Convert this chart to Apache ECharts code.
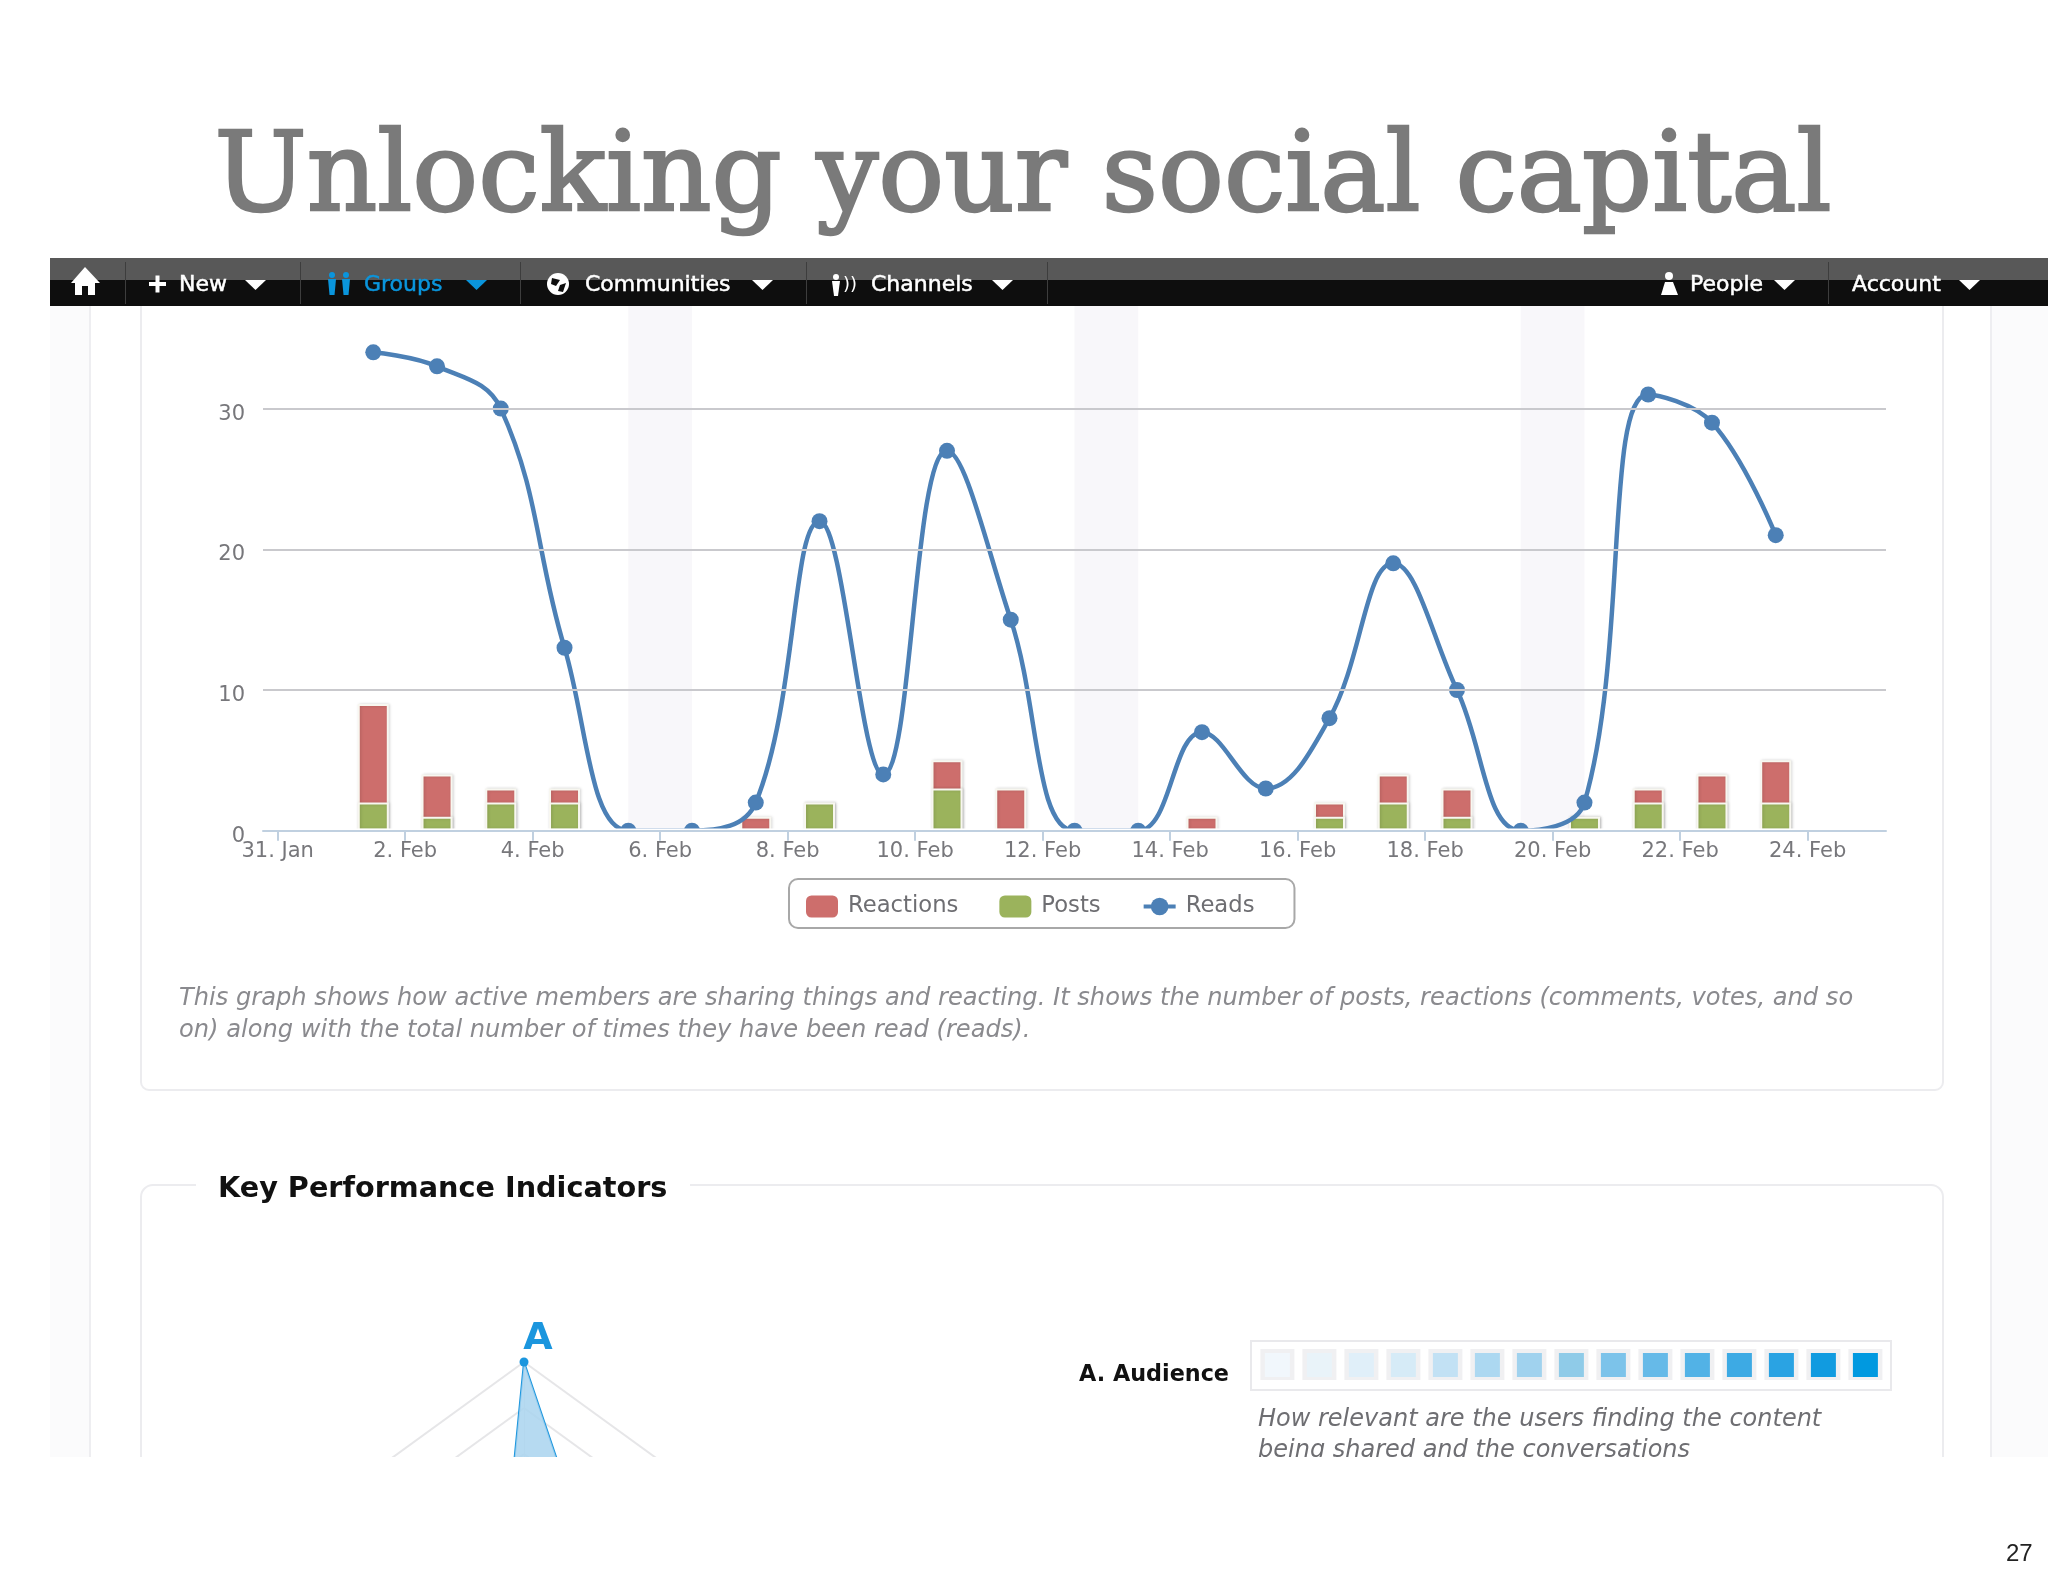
<!DOCTYPE html>
<html>
<head>
<meta charset="utf-8">
<title>Unlocking your social capital</title>
<style>
  html, body { margin: 0; padding: 0; background: #fff; }
  #main { width: 2048px; height: 1576px; }
</style>
<script src="https://cdn.jsdelivr.net/npm/echarts@6/dist/echarts.min.js"></script>
</head>
<body>
<div id="main"></div>
<script>
// x values are days counted from 31. Jan, points sit at midday
var days = [1.5, 2.5, 3.5, 4.5, 5.5, 6.5, 7.5, 8.5, 9.5, 10.5, 11.5, 12.5, 13.5, 14.5, 15.5, 16.5, 17.5, 18.5, 19.5, 20.5, 21.5, 22.5, 23.5];
var reactions = [7, 3, 1, 1, 0, 0, 1, 0, 0, 2, 3, 0, 0, 1, 0, 1, 2, 2, 0, 0, 1, 2, 3];
var posts = [2, 1, 2, 2, 0, 0, 0, 2, 0, 3, 0, 0, 0, 0, 0, 1, 2, 1, 0, 1, 2, 2, 2];
var reads = [34, 33, 30, 13, 0, 0, 2, 22, 4, 27, 15, 0, 0, 7, 3, 8, 19, 10, 0, 2, 31, 29, 21];

var tickDays = [0, 2, 4, 6, 8, 10, 12, 14, 16, 18, 20, 22, 24];
var tickLabels = ['31. Jan', '2. Feb', '4. Feb', '6. Feb', '8. Feb', '10. Feb', '12. Feb', '14. Feb', '16. Feb', '18. Feb', '20. Feb', '22. Feb', '24. Feb'];
var yTicks = [0, 10, 20, 30];
var weekends = [[5.5, 6.5], [12.5, 13.5], [19.5, 20.5]];

var radarNames = ['A', 'B', 'C', 'D', 'E'];
var radarValues = [100, 10, 30, 30, 32];
var audienceShades = ['#f1f7fc', '#e9f3f9', '#e0eff9', '#d6ebf7', '#c2e1f4', '#acd8f1', '#a0d2ee', '#8fcbe8', '#7cc3ea', '#66bae8', '#52b2e6', '#3daae4', '#2aa3e3', '#119be0', '#0099e0'];

var navItems = [
    { text: 'New', x: 179, color: '#fff', caret: 245 },
    { text: 'Groups', x: 364, color: '#0a95dc', caret: 466 },
    { text: 'Communities', x: 585, color: '#fff', caret: 752 },
    { text: 'Channels', x: 871, color: '#fff', caret: 992 },
    { text: 'People', x: 1690, color: '#fff', caret: 1774 },
    { text: 'Account', x: 1852, color: '#fff', caret: 1959 }
];
var navSeparators = [125, 300, 520, 806, 1047, 1828];

function pairs(values) {
    return values.map(function (v, i) { return [days[i], v]; });
}
// value x axis does not stack, so the red bar runs to the total and green sits over it.
// empty pieces would still paint their border
function barPairs(values) {
    return values.map(function (v, i) { return [days[i], v || null]; });
}
var totals = reactions.map(function (v, i) { return v + posts[i]; });

function label(x, y, str, font, color, extra, z) {
    var style = { x: x, y: y, text: str, font: font, fill: color, textVerticalAlign: 'middle' };
    for (var k in extra) style[k] = extra[k];
    return { type: 'text', z: z || 30, style: style };
}
function box(x, y, w, h, fill, z, r) {
    return { type: 'rect', z: z, shape: { x: x, y: y, width: w, height: h, r: r || 0 }, style: { fill: fill } };
}
function frame(x, y, w, h, stroke, z, r) {
    return { type: 'rect', z: z, shape: { x: x, y: y, width: w, height: h, r: r || 0 }, style: { fill: 'none', stroke: stroke, lineWidth: 2 } };
}
function poly(points, fill, z) {
    return { type: 'polygon', z: z, shape: { points: points }, style: { fill: fill } };
}
function dot(cx, cy, r, fill, z) {
    return { type: 'circle', z: z, shape: { cx: cx, cy: cy, r: r }, style: { fill: fill } };
}

var sans = '"DejaVu Sans", sans-serif';
var chrome = [];

// page tint and panel outlines
chrome.push(box(50, 306, 39, 1151, '#fbfbfc', 0));
chrome.push(box(1991, 306, 57, 1151, '#fbfbfc', 0));
chrome.push(box(89, 306, 2, 1151, '#eeeef1', 0));
chrome.push(box(1990, 306, 2, 1151, '#eeeef1', 0));
chrome.push(frame(141, 290, 1802, 800, '#ececef', 0, 8));
chrome.push(frame(141, 1185, 1802, 340, '#ececef', 0, 12));
chrome.push(box(196, 1170, 494, 30, '#fff', 1));

// nav bar
chrome.push(box(50, 258, 1998, 22, '#585858', 40));
chrome.push(box(50, 280, 1998, 26, '#0e0e0e', 40));
navSeparators.forEach(function (x) { chrome.push(box(x, 262, 1, 42, '#3d3d3d', 41)); });
navItems.forEach(function (item) {
    chrome.push(label(item.x, 285, item.text, '22px ' + sans, item.color, { stroke: item.color, lineWidth: 0.5 }, 42));
    chrome.push(poly([[item.caret, 280], [item.caret + 21, 280], [item.caret + 10.5, 290]], item.color, 42));
});
// house
chrome.push(poly([[85, 267], [100, 283], [95, 283], [95, 295], [88, 295], [88, 286], [82, 286], [82, 295], [75, 295], [75, 283], [71, 283]], '#fff', 42));
// plus next to New
chrome.push(box(149, 282, 17, 4, '#fff', 42));
chrome.push(box(155.5, 275.5, 4, 17, '#fff', 42));
// groups figures
[332, 346].forEach(function (x) {
    chrome.push(dot(x, 275, 3, '#0a95dc', 42));
    chrome.push(poly([[x - 4, 279], [x + 4, 279], [x + 2.5, 295], [x - 2.5, 295]], '#0a95dc', 42));
});
// globe
chrome.push(dot(558, 284, 11, '#fff', 42));
chrome.push(poly([[552, 278], [560, 280], [556, 286], [551, 284]], '#0e0e0e', 43));
chrome.push(poly([[560, 285], [566, 283], [563, 292], [558, 291]], '#0e0e0e', 43));
// channels figure and signal
chrome.push(dot(836, 277, 3, '#fff', 42));
chrome.push(poly([[832, 281], [840, 281], [838, 296], [834, 296]], '#fff', 42));
chrome.push(label(843, 285, '))', '18px ' + sans, '#fff', {}, 42));
// people figure
chrome.push(dot(1669, 276, 4, '#fff', 42));
chrome.push(poly([[1665, 282], [1673, 282], [1678, 295], [1661, 295]], '#fff', 42));

// title and page number
chrome.push(label(1023, 182, 'Unlocking your social capital', '109.5px "DejaVu Serif", serif', '#7a7a7a', { textAlign: 'center', stroke: '#7a7a7a', lineWidth: 2.5 }));
chrome.push(label(2006, 1554, '27', '24px "Liberation Sans", sans-serif', '#222', {}, 36));

// caption under the chart
chrome.push(label(179, 998.5, 'This graph shows how active members are sharing things and reacting. It shows the number of posts, reactions (comments, votes, and so', 'italic 24.15px ' + sans, '#8a8a8e', {}));
chrome.push(label(179, 1030.5, 'on) along with the total number of times they have been read (reads).', 'italic 24.15px ' + sans, '#8a8a8e', {}));

// KPI section
chrome.push(label(218, 1189.5, 'Key Performance Indicators', 'bold 28.7px ' + sans, '#111', {}));
chrome.push(label(538, 1339, 'A', 'bold 38px ' + sans, '#1b96de', { textAlign: 'center' }));
chrome.push(label(1079, 1375, 'A. Audience', 'bold 22.3px ' + sans, '#111', {}));
chrome.push(frame(1251, 1341, 640, 49, '#e9e9ec', 3));
audienceShades.forEach(function (c, i) {
    var x = 1277.4 + i * 42;
    chrome.push(box(x - 17, 1349, 34, 31, '#f0f0f2', 3));
    chrome.push(box(x - 12.5, 1353, 25, 24, c, 4));
});
chrome.push(label(1258, 1420, 'How relevant are the users finding the content', 'italic 24px ' + sans, '#6e6e72', {}));
chrome.push(label(1258, 1451, 'being shared and the conversations', 'italic 24px ' + sans, '#6e6e72', {}));

// the screenshot is cut off here
chrome.push(box(0, 1457, 2048, 119, '#fff', 35));

// plot area clips the points a little above the axis line
chrome.push(box(240, 828.5, 1660, 30, '#fff', 5));

var barStyle = { borderColor: '#f8f7f0', borderWidth: 2, shadowColor: 'rgba(0,0,0,0.15)', shadowBlur: 3, shadowOffsetX: 1 };

var option = {
    animation: false,
    backgroundColor: '#fff',
    textStyle: { fontFamily: sans },
    grid: { left: 263, right: 162, top: 306, bottom: 745.3 },
    legend: {
        data: ['Reactions', 'Posts', 'Reads'],
        left: 789,
        top: 879,
        padding: [16, 40, 10, 17],
        itemWidth: 32,
        itemHeight: 22,
        itemGap: 41,
        borderColor: '#a8a8a8',
        borderWidth: 2,
        borderRadius: 9,
        backgroundColor: '#fff',
        itemStyle: { borderWidth: 0, shadowBlur: 0, shadowOffsetX: 0 },
        lineStyle: { width: 4 },
        textStyle: { color: '#6e6e72', fontSize: 22.7, padding: [0, 0, 0, 5] }
    },
    xAxis: {
        type: 'value',
        min: -0.23,
        max: 25.23,
        z: 10,
        splitLine: { show: false },
        axisLine: { show: true, onZero: false, lineStyle: { color: '#c0d0e0', width: 2 } },
        axisTick: { show: true, length: 10, customValues: tickDays, lineStyle: { color: '#c0d0e0', width: 2 } },
        axisLabel: {
            customValues: tickDays,
            color: '#77777b',
            fontSize: 21,
            margin: 10,
            hideOverlap: false,
            showMinLabel: true,
            formatter: function (v) { return tickLabels[tickDays.indexOf(v)]; }
        }
    },
    yAxis: {
        type: 'value',
        min: 0,
        max: 37.29,
        interval: 10,
        z: 10,
        axisLine: { show: false },
        axisTick: { show: false },
        splitLine: { showMinLine: false, showMaxLine: false, lineStyle: { color: '#c9c9cd', width: 2 } },
        axisLabel: {
            customValues: yTicks,
            color: '#77777b',
            fontSize: 21,
            margin: 18,
            verticalAlign: 'top',
            lineHeight: 11
        }
    },
    radar: {
        center: [524, 1592],
        radius: 230,
        splitNumber: 5,
        indicator: radarNames.map(function (n) { return { name: n, max: 100 }; }),
        axisName: { show: false },
        axisLine: { lineStyle: { color: '#e6e6e8' } },
        splitLine: { lineStyle: { color: '#e6e6e8', width: 2 } },
        splitArea: { show: false }
    },
    series: [
        {
            name: 'Reactions',
            type: 'bar',
            barWidth: 31,
            barGap: '-100%',
            z: 2,
            itemStyle: Object.assign({ color: '#cd6e6c' }, barStyle),
            data: barPairs(totals)
        },
        {
            name: 'Posts',
            type: 'bar',
            barWidth: 31,
            barGap: '-100%',
            z: 2,
            itemStyle: Object.assign({ color: '#9bb35c' }, barStyle),
            data: barPairs(posts)
        },
        {
            name: 'Reads',
            type: 'line',
            smooth: 0.4,
            symbol: 'circle',
            symbolSize: 16,
            z: 3,
            lineStyle: { color: '#4c80b6', width: 4.5 },
            itemStyle: { color: '#4c80b6' },
            markArea: {
                silent: true,
                itemStyle: { color: '#f8f7fa' },
                data: weekends.map(function (w) { return [{ xAxis: w[0] }, { xAxis: w[1] }]; })
            },
            data: pairs(reads)
        },
        {
            type: 'radar',
            symbol: 'circle',
            symbolSize: 9,
            z: 2,
            lineStyle: { color: '#1b96de', width: 2 },
            itemStyle: { color: '#1b96de' },
            areaStyle: { color: '#a9d3ef', opacity: 0.85 },
            data: [{ value: radarValues }]
        }
    ],
    graphic: { elements: chrome }
};

var myChart = echarts.init(document.getElementById('main'));
myChart.setOption(option);
</script>
</body>
</html>
